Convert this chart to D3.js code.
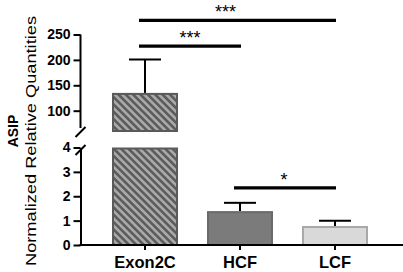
<!DOCTYPE html>
<html>
<head>
<meta charset="utf-8">
<script src="https://cdn.jsdelivr.net/npm/d3@7"></script>
<style>
body { margin: 0; background: #fff; }
text { font-family: "Liberation Sans", Arial, sans-serif; }
</style>
</head>
<body>
<div id="chart"></div>
<script>
const categories = ["Exon2C", "HCF", "LCF"];
const means = [135, 1.39, 0.78];
const errors = [66, 0.34, 0.22];
const fills = ["url(#stripes)", "#7b7b7b", "#d9d9d9"];
const strokes = ["#5a5a5a", "#6a6a6a", "#a8a8a8"];
const lowTicks = [0, 1, 2, 3, 4];
const highTicks = [100, 150, 200, 250];
// brackets: from, to, height (data units), label
const brackets = [
	{ a: 0, b: 2, v: 278, label: "***", dx: -12 },
	{ a: 0, b: 1, v: 227, label: "***", dx: 0 },
	{ a: 1, b: 2, v: 2.34, label: "*", dx: -1 }
];

const width = 403, height = 272;
const svg = d3.select("#chart").append("svg")
	.attr("width", width)
	.attr("height", height);

const defs = svg.append("defs");
const pat = defs.append("pattern")
	.attr("id", "stripes")
	.attr("patternUnits", "userSpaceOnUse")
	.attr("width", 5.2)
	.attr("height", 5.2)
	.attr("patternTransform", "rotate(-45)");
pat.append("rect").attr("width", 5.2).attr("height", 5.2).attr("fill", "#a9a9a9");
pat.append("rect").attr("width", 2.6).attr("height", 5.2).attr("fill", "#5c5c5c");

const axisX = 80.5;
const x = d3.scaleBand()
	.domain(categories)
	.range([112, 368])
	.paddingInner(0.305);

// broken y axis: two segments
const yLow = d3.scaleLinear().domain([0, 4]).range([245, 147.5]);
const yHigh = d3.scaleLinear().domain([60, 250]).range([131, 34.5]);
const y = v => v <= 4 ? yLow(v) : yHigh(v);

// bars
categories.forEach((c, i) => {
	const segs = means[i] > 4 ? [[0, 4], [60, means[i]]] : [[0, means[i]]];
	segs.forEach(s => {
		const top = s[1] > 4 ? yHigh(s[1]) : yLow(s[1]);
		const bot = s[0] >= 60 ? yHigh(s[0]) : yLow(s[0]);
		svg.append("rect")
			.attr("x", x(c) + 1)
			.attr("y", top + 1)
			.attr("width", x.bandwidth() - 2)
			.attr("height", bot - top - 1)
			.attr("fill", fills[i])
			.attr("stroke", strokes[i])
			.attr("stroke-width", 2);
	});
	// error bar (upper only)
	const cx = x(c) + x.bandwidth() / 2;
	svg.append("line")
		.attr("x1", cx).attr("x2", cx)
		.attr("y1", y(means[i])).attr("y2", y(means[i] + errors[i]))
		.attr("stroke", "#000").attr("stroke-width", 2);
	svg.append("line")
		.attr("x1", cx - 16).attr("x2", cx + 16)
		.attr("y1", y(means[i] + errors[i])).attr("y2", y(means[i] + errors[i]))
		.attr("stroke", "#000").attr("stroke-width", 2);
});

// y axes
const gLow = svg.append("g").attr("transform", `translate(${axisX},0)`)
	.call(d3.axisLeft(yLow).tickValues(lowTicks).tickSize(7).tickSizeOuter(0).tickFormat(d3.format("d")));
const gHigh = svg.append("g").attr("transform", `translate(${axisX},0)`)
	.call(d3.axisLeft(yHigh).tickValues(highTicks).tickSize(7).tickSizeOuter(0).tickFormat(d3.format("d")));
gHigh.select(".domain").attr("d", `M0,${yHigh(250)}V128`);
[gLow, gHigh].forEach(g => {
	g.selectAll("path,line").attr("stroke", "#000").attr("stroke-width", 2);
	g.selectAll("text")
		.attr("x", -10)
		.style("font-size", "14px")
		.style("font-weight", "bold")
		.attr("fill", "#000");
});

// break marks
[132, 150].forEach(yy => {
	svg.append("line")
		.attr("x1", axisX - 5).attr("x2", axisX + 5)
		.attr("y1", yy + 5).attr("y2", yy - 5)
		.attr("stroke", "#000").attr("stroke-width", 2);
});

// x axis
const gx = svg.append("g").attr("transform", `translate(0,${yLow(0)})`)
	.call(d3.axisBottom(x).tickSize(5).tickSizeOuter(0));
gx.select(".domain").attr("d", `M${axisX - 1},0H${width}`);
gx.selectAll("path,line").attr("stroke", "#000").attr("stroke-width", 2);
gx.selectAll("text")
	.attr("y", 11)
	.style("font-size", "16.5px")
	.style("font-weight", "bold")
	.attr("fill", "#000");

// significance brackets
brackets.forEach(b => {
	const x1 = x(categories[b.a]) + x.bandwidth() / 2 - 6;
	const x2 = x(categories[b.b]) + x.bandwidth() / 2 + 1;
	const yy = y(b.v);
	svg.append("line")
		.attr("x1", x1).attr("x2", x2)
		.attr("y1", yy).attr("y2", yy)
		.attr("stroke", "#000").attr("stroke-width", 3.2);
	svg.append("text")
		.attr("x", (x1 + x2) / 2 + b.dx)
		.attr("y", yy - 2)
		.attr("text-anchor", "middle")
		.style("font-size", "18px")
		.text(b.label);
});

// y axis title
svg.append("text")
	.attr("transform", `translate(17.5,131) rotate(-90)`)
	.attr("text-anchor", "middle")
	.style("font-size", "14px")
	.style("font-weight", "bold")
	.text("ASIP");
svg.append("text")
	.attr("transform", `translate(36,141) rotate(-90)`)
	.attr("text-anchor", "middle")
	.attr("textLength", 250)
	.attr("lengthAdjust", "spacingAndGlyphs")
	.style("font-size", "14px")
	.text("Normalized Relative Quantities");
</script>
</body>
</html>
